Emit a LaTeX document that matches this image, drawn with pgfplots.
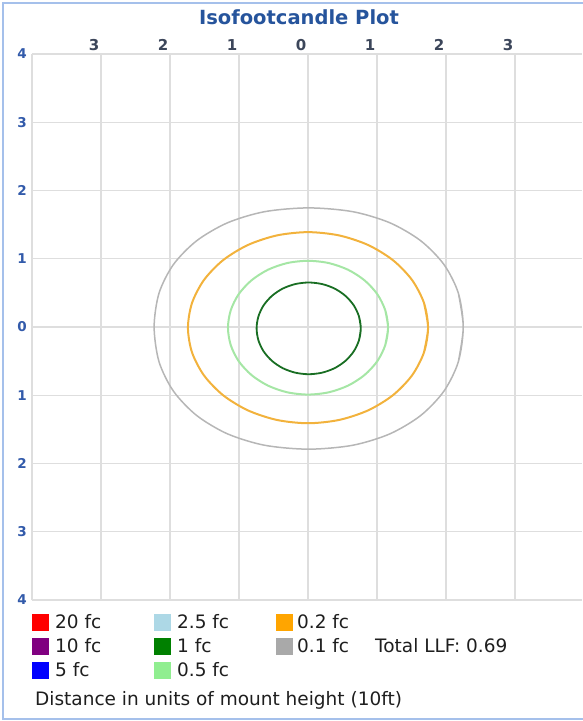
\documentclass[border=0pt]{standalone}
\usepackage{fontspec}
\setmainfont{DejaVu Sans}
\usepackage{pgfplots}
\pgfplotsset{compat=1.18}
\definecolor{titleblue}{RGB}{38,84,156}
\definecolor{tickblue}{RGB}{50,90,170}
\definecolor{topgray}{RGB}{60,70,90}
\definecolor{gridgray}{RGB}{222,222,222}
\definecolor{framecol}{RGB}{165,192,235}
\definecolor{legtext}{RGB}{30,30,30}
\definecolor{cA}{RGB}{255,0,0}
\definecolor{cB}{RGB}{128,0,128}
\definecolor{cC}{RGB}{0,0,255}
\definecolor{cD}{RGB}{173,216,230}
\definecolor{cE}{RGB}{0,128,0}
\definecolor{cF}{RGB}{144,238,144}
\definecolor{cG}{RGB}{255,165,0}
\definecolor{cH}{RGB}{169,169,169}
\definecolor{lnE}{RGB}{25,110,35}
\definecolor{lnF}{RGB}{165,230,165}
\definecolor{lnG}{RGB}{242,178,60}
\definecolor{lnH}{RGB}{182,182,182}
\begin{document}
\begin{tikzpicture}
\useasboundingbox (-32pt,-121pt) rectangle (550pt,600pt);
\begin{axis}[
  at={(0pt,0pt)}, anchor=south west,
  width=550pt, height=546pt, scale only axis,
  xmin=-4, xmax=3.971, ymin=-4, ymax=4,
  axis line style={draw=none},
  major tick length=0pt,
  xtick={-4,-3,-2,-1,0,1,2,3},
  xticklabels={,3,2,1,0,1,2,3},
  ytick={-4,-3,-2,-1,0,1,2,3,4},
  yticklabels={4,3,2,1,0,1,2,3,4},
  xticklabel pos=upper,
  grid=major,
  major grid style={draw=gridgray, line width=1.3pt},
  /pgf/number format/assume math mode=true,
  xticklabel style={font=\bfseries\fontsize{15}{15}\selectfont, text=topgray, anchor=center, yshift=9pt, xshift=-7pt},
  yticklabel style={font=\bfseries\fontsize{13.5}{14}\selectfont, text=tickblue, anchor=center, xshift=-10pt},
]
% 0.1 fc
\addplot[lnH, line width=1.5pt, smooth] coordinates {
(2.179,-0.509) (2.25,0.0) (2.179,0.496) (1.97,0.916) (1.633,1.264) (1.186,1.527) (0.647,1.690) (0.01,1.745)
(-0.627,1.690) (-1.166,1.527) (-1.613,1.264) (-1.95,0.916) (-2.159,0.496) (-2.23,0.0)
(-2.159,-0.509) (-1.95,-0.94) (-1.613,-1.297) (-1.166,-1.566) (-0.627,-1.733) (0.01,-1.79)
(0.647,-1.733) (1.186,-1.566) (1.633,-1.297) (1.97,-0.94) (2.179,-0.509) (2.25,0.0) (2.179,0.496)
};
% 0.2 fc
\addplot[lnG, line width=2pt, smooth] coordinates {
(1.681,-0.372) (1.74,-0.01) (1.681,0.352) (1.507,0.69) (1.23,0.98) (0.87,1.202) (0.45,1.342) (0,1.39)
(-0.45,1.342) (-0.87,1.202) (-1.23,0.98) (-1.507,0.69) (-1.681,0.352) (-1.74,-0.01)
(-1.681,-0.372) (-1.507,-0.71) (-1.23,-1.0) (-0.87,-1.222) (-0.45,-1.362) (0,-1.41)
(0.45,-1.362) (0.87,-1.222) (1.23,-1.0) (1.507,-0.71) (1.681,-0.372) (1.74,-0.01) (1.681,0.352)
};
% 0.5 fc
\addplot[lnF, line width=2pt, smooth] coordinates {
(1.12,-0.264) (1.16,-0.01) (1.12,0.244) (1.005,0.48) (0.82,0.683) (0.58,0.839) (0.30,0.937) (0,0.97)
(-0.30,0.937) (-0.58,0.839) (-0.82,0.683) (-1.005,0.48) (-1.12,0.244) (-1.16,-0.01)
(-1.12,-0.264) (-1.005,-0.50) (-0.82,-0.703) (-0.58,-0.859) (-0.30,-0.957) (0,-0.99)
(0.30,-0.957) (0.58,-0.859) (0.82,-0.703) (1.005,-0.50) (1.12,-0.264) (1.16,-0.01) (1.12,0.244)
};
% 1 fc
\addplot[lnE, line width=1.8pt, smooth] coordinates {
(0.739,-0.194) (0.765,-0.02) (0.739,0.154) (0.664,0.316) (0.544,0.455) (0.388,0.562) (0.205,0.629) (0.01,0.652)
(-0.185,0.629) (-0.368,0.562) (-0.524,0.455) (-0.644,0.316) (-0.719,0.154) (-0.745,-0.02)
(-0.719,-0.194) (-0.644,-0.356) (-0.524,-0.495) (-0.368,-0.602) (-0.185,-0.669) (0.01,-0.692)
(0.205,-0.669) (0.388,-0.602) (0.544,-0.495) (0.664,-0.356) (0.739,-0.194) (0.765,-0.02) (0.739,0.154)
};
\end{axis}
% outer frame
\draw[framecol, line width=1.6pt] (-29pt,-119pt) rectangle (575pt,597pt);
% title
\node[font=\bfseries\fontsize{19.5}{20}\selectfont, text=titleblue, anchor=base, inner sep=0pt] at (267pt,575pt) {Isofootcandle Plot};
% legend
\begin{scope}[every node/.style={anchor=base west, inner sep=0pt, text=legtext, font=\fontsize{18.5}{20}\selectfont}]
\fill[cA] (0pt,-30.5pt) rectangle (17pt,-13.5pt);
\node at (23pt,-28.7pt) {20 fc};
\fill[cB] (0pt,-54.5pt) rectangle (17pt,-37.5pt);
\node at (23pt,-52.7pt) {10 fc};
\fill[cC] (0pt,-78.5pt) rectangle (17pt,-61.5pt);
\node at (23pt,-76.7pt) {5 fc};
\fill[cD] (122pt,-30.5pt) rectangle (139pt,-13.5pt);
\node at (145pt,-28.7pt) {2.5 fc};
\fill[cE] (122pt,-54.5pt) rectangle (139pt,-37.5pt);
\node at (145pt,-52.7pt) {1 fc};
\fill[cF] (122pt,-78.5pt) rectangle (139pt,-61.5pt);
\node at (145pt,-76.7pt) {0.5 fc};
\fill[cG] (244pt,-30.5pt) rectangle (261pt,-13.5pt);
\node at (265pt,-28.7pt) {0.2 fc};
\fill[cH] (244pt,-54.5pt) rectangle (261pt,-37.5pt);
\node at (265pt,-52.7pt) {0.1 fc};
\node at (343pt,-52.7pt) {Total LLF: 0.69};
\node at (3pt,-105.7pt) {Distance in units of mount height (10ft)};
\end{scope}
\end{tikzpicture}
\end{document}
